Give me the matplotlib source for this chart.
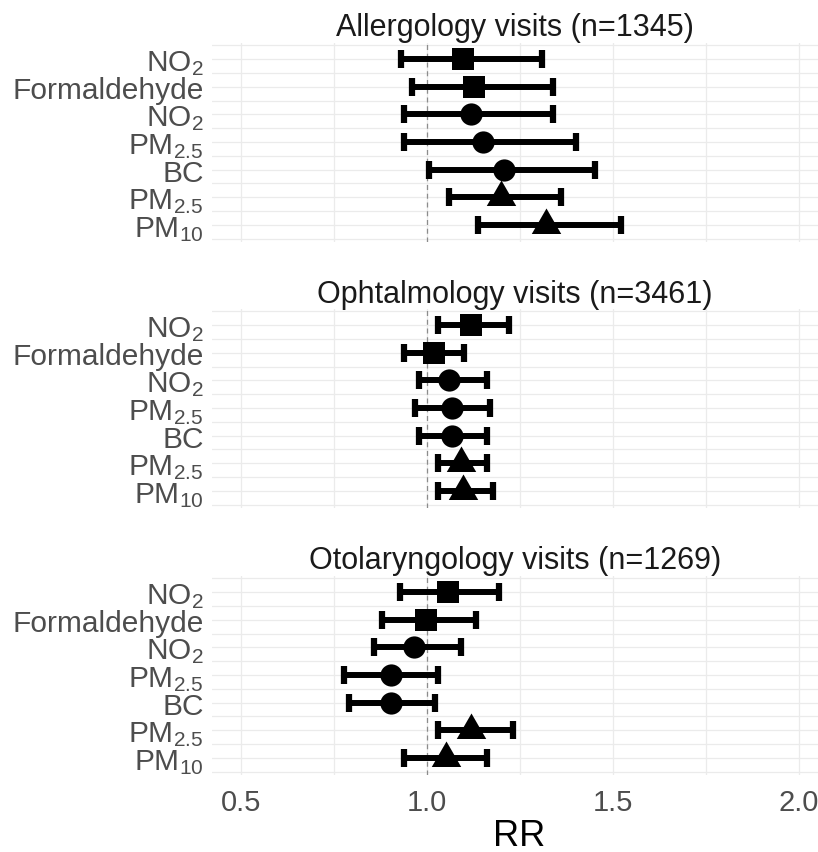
import matplotlib
matplotlib.use("Agg")
import matplotlib.pyplot as plt
import numpy as np
from matplotlib.path import Path

plt.rcParams['font.family'] = ['Liberation Sans', 'DejaVu Sans']

labels = [r'$\mathregular{NO_2}$', 'Formaldehyde', r'$\mathregular{NO_2}$',
          r'$\mathregular{PM_{2.5}}$', 'BC', r'$\mathregular{PM_{2.5}}$', r'$\mathregular{PM_{10}}$']
shapes = ['square', 'square', 'circle', 'circle', 'circle', 'triangle', 'triangle']

titles = ['Allergology visits (n=1345)', 'Ophtalmology visits (n=3461)', 'Otolaryngology visits (n=1269)']

allergy_rr = [1.098, 1.128, 1.120, 1.151, 1.207, 1.199, 1.319]
allergy_lo = [0.930, 0.960, 0.939, 0.939, 1.007, 1.060, 1.138]
allergy_hi = [1.310, 1.339, 1.339, 1.400, 1.451, 1.360, 1.521]

ophtal_rr = [1.118, 1.019, 1.059, 1.069, 1.069, 1.092, 1.098]
ophtal_lo = [1.029, 0.938, 0.978, 0.969, 0.978, 1.029, 1.029]
ophtal_hi = [1.221, 1.100, 1.161, 1.169, 1.161, 1.161, 1.179]

oto_rr = [1.057, 0.997, 0.967, 0.903, 0.903, 1.120, 1.051]
oto_lo = [0.928, 0.879, 0.859, 0.777, 0.790, 1.029, 0.939]
oto_hi = [1.193, 1.131, 1.091, 1.031, 1.023, 1.231, 1.162]

x_ticks = [0.5, 1.0, 1.5, 2.0]
x_tick_labels = ['0.5', '1.0', '1.5', '2.0']

panels = [(allergy_rr, allergy_lo, allergy_hi),
          (ophtal_rr, ophtal_lo, ophtal_hi),
          (oto_rr, oto_lo, oto_hi)]

tri = Path([(-1, -0.577), (1, -0.577), (0, 1.155), (-1, -0.577)],
           [Path.MOVETO, Path.LINETO, Path.LINETO, Path.CLOSEPOLY])
marker_map = {'square': ('s', 15.5), 'circle': ('o', 16), 'triangle': (tri, 24.5)}

W, H = 818, 853
fig = plt.figure(figsize=(W / 100, H / 100), dpi=100)

panel_tops = [43.5, 309.5, 576.5]
panel_h = 199
left_px = 212
grid_c = '#EBEBEB'

for i, (rr, lo, hi) in enumerate(panels):
    ax = fig.add_axes([left_px / W, 1 - (panel_tops[i] + panel_h) / H, 1 - left_px / W, panel_h / H])
    n = len(labels)
    y = np.arange(n)
    ax.set_xlim(0.423, 2.051)
    ax.set_ylim(n - 0.4, -0.6)
    for gx in [0.5, 0.75, 1.0, 1.25, 1.5, 1.75, 2.0]:
        ax.axvline(gx, color=grid_c, lw=0.9, zorder=0)
    for gy in np.arange(-0.5, n, 0.5):
        ax.axhline(gy, color=grid_c, lw=0.9, zorder=0)
    ax.axvline(1.0, color='#8C8C8C', lw=0.9, ls=(0, (4, 3)), zorder=1)
    rr_a = np.array(rr); lo_a = np.array(lo); hi_a = np.array(hi)
    ax.errorbar(rr_a, y, xerr=[rr_a - lo_a, hi_a - rr_a], fmt='none', ecolor='black',
                elinewidth=4.3, capsize=6.5, capthick=4.5, zorder=2)
    for j in range(n):
        m, ms = marker_map[shapes[j]]
        ax.plot([rr[j]], [y[j]], marker=m, markersize=ms, color='black',
                markeredgewidth=0, linestyle='none', zorder=3)
    ax.set_yticks(y)
    ax.set_yticklabels(labels, fontsize=21.5, color='#4D4D4D')
    ax.set_xticks(x_ticks)
    if i == 2:
        ax.set_xticklabels(x_tick_labels, fontsize=21, color='#4D4D4D')
    else:
        ax.set_xticklabels([])
    ax.tick_params(axis='both', length=0)
    ax.tick_params(axis='y', pad=6)
    ax.tick_params(axis='x', pad=10)
    for s in ax.spines.values():
        s.set_visible(False)
    ax.set_title(titles[i], fontsize=22, color='#1A1A1A', pad=5)

fig.text(519 / W, 1 - 846 / H, 'RR', fontsize=26, color='black', ha='center', va='baseline')

fig.savefig('out.png', dpi=100)
